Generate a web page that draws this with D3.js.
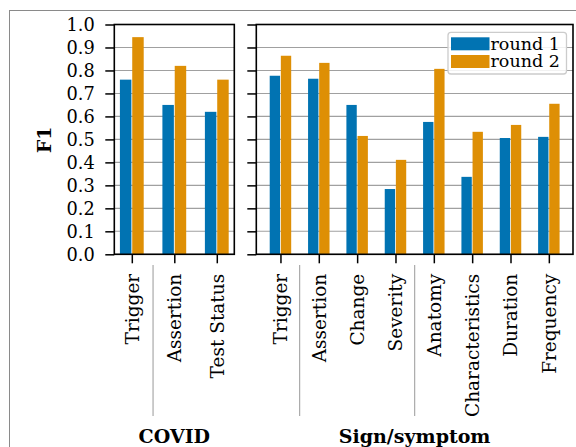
<!DOCTYPE html>
<html><head><meta charset="utf-8">
<script src="https://cdn.jsdelivr.net/npm/d3@7"></script>
<style>
html,body{margin:0;padding:0;background:#fff;}
svg{display:block;}
text{font-family:"DejaVu Serif",serif;}
</style></head>
<body>
<svg id="c" width="576" height="447"></svg>
<script>
const covidCats = ["Trigger","Assertion","Test Status"];
const covidRound1 = [0.76,0.65,0.62];
const covidRound2 = [0.945,0.82,0.76];
const signCats = ["Trigger","Assertion","Change","Severity","Anatomy","Characteristics","Duration","Frequency"];
const signRound1 = [0.777,0.764,0.65,0.284,0.576,0.337,0.506,0.511];
const signRound2 = [0.864,0.833,0.515,0.411,0.807,0.533,0.563,0.655];
const yTicks = [0,0.1,0.2,0.3,0.4,0.5,0.6,0.7,0.8,0.9,1.0];
const seriesNames = ["round 1","round 2"];
const colors = ["#0173b2","#de8f05"];
const groupNames = ["COVID","Sign/symptom"];
const covidSeparators = [0.5];
const signSeparators = [0.5,3.5];

const svg = d3.select("#c");
const FS_Y = 17.8, FS_X = 18.5, FS_G = 19, FS_L = 17.5;
svg.append("rect").attr("x",9.5).attr("y",10.5).attr("width",600).attr("height",500)
  .attr("fill","none").attr("stroke","#8a8a8a").attr("stroke-width",1);

const axTop = 24.5, axBottom = 254.3;
const y = d3.scaleLinear().domain([0,1]).range([axBottom, axTop]);

function panel(x0, x1, cats, r1, r2, pad, seps, groupName, showLabels){
  const g = svg.append("g");
  const x = d3.scalePoint().domain(d3.range(cats.length)).range([x0,x1]).padding(pad);
  const step = x.step();
  const xl = d3.scaleLinear().domain([0,1]).range([x(0), x(1)]);
  g.selectAll(".grid").data(yTicks).join("line")
    .attr("x1",x0).attr("x2",x1).attr("y1",d=>y(d)).attr("y2",d=>y(d))
    .attr("stroke","#a0a0a0").attr("stroke-width",1.1);
  const bw = 0.27*step, off = 0.145*step;
  [r1,r2].forEach((vals,si)=>{
    g.selectAll(".b"+si).data(vals).join("rect")
      .attr("x",(d,i)=>x(i)+(si===0?-off:off)-bw/2)
      .attr("width",bw)
      .attr("y",d=>y(d)).attr("height",d=>y(0)-y(d))
      .attr("fill",colors[si]);
  });
  g.append("rect").attr("x",x0).attr("y",axTop).attr("width",x1-x0).attr("height",axBottom-axTop)
    .attr("fill","none").attr("stroke","#000").attr("stroke-width",1.6);
  const ya = d3.axisLeft(y).tickValues(yTicks).tickSize(9).tickPadding(10.5)
    .tickFormat(showLabels? d3.format(".1f") : ()=>"");
  const yg = g.append("g").attr("transform",`translate(${x0},0)`).call(ya);
  yg.select(".domain").remove();
  yg.selectAll(".tick line").attr("stroke","#000").attr("stroke-width",1.5);
  yg.selectAll("text").attr("font-size",FS_Y).attr("fill","#000").style("font-family","DejaVu Serif");
  const xa = d3.axisBottom(x).tickSize(9).tickPadding(12).tickFormat(i=>cats[i]);
  const xg = g.append("g").attr("transform",`translate(0,${axBottom})`).call(xa);
  xg.select(".domain").remove();
  xg.selectAll(".tick line").attr("stroke","#000").attr("stroke-width",1.5);
  xg.selectAll("text").attr("font-size",FS_X).attr("fill","#000").style("font-family","DejaVu Serif")
    .attr("transform","rotate(-90)").attr("text-anchor","end")
    .attr("x",-19.5).attr("y",0).attr("dy","0.35em");
  g.selectAll(".sep").data(seps).join("line")
    .attr("x1",d=>xl(d)).attr("x2",d=>xl(d)).attr("y1",265).attr("y2",416)
    .attr("stroke","#aaaaaa").attr("stroke-width",1.2);
  g.append("text").attr("x",(x0+x1)/2).attr("y",443).attr("text-anchor","middle")
    .attr("font-size",FS_G).attr("font-weight","bold").text(groupName);
}
panel(114.3, 234.3, covidCats, covidRound1, covidRound2, 0.412, covidSeparators, groupNames[0], true);
panel(256.3, 573, signCats, signRound1, signRound2, 0.63, signSeparators, groupNames[1], false);

svg.append("text").attr("transform","translate(51,140) rotate(-90)").attr("text-anchor","middle")
  .attr("font-size",FS_G).attr("font-weight","bold").text("F1");

const lg = svg.append("g");
lg.append("rect").attr("x",448).attr("y",32.3).attr("width",118.5).attr("height",41.7).attr("rx",3)
  .attr("fill","#fff").attr("fill-opacity",0.85).attr("stroke","#cccccc").attr("stroke-width",1.3);
seriesNames.forEach((n,i)=>{
  lg.append("rect").attr("x",451).attr("y",37.3+i*17.7).attr("width",38.5).attr("height",13)
    .attr("fill",colors[i]);
  lg.append("text").attr("x",490.5).attr("y",49.5+i*17.7).attr("font-size",FS_L).text(n);
});
</script>
</body></html>
